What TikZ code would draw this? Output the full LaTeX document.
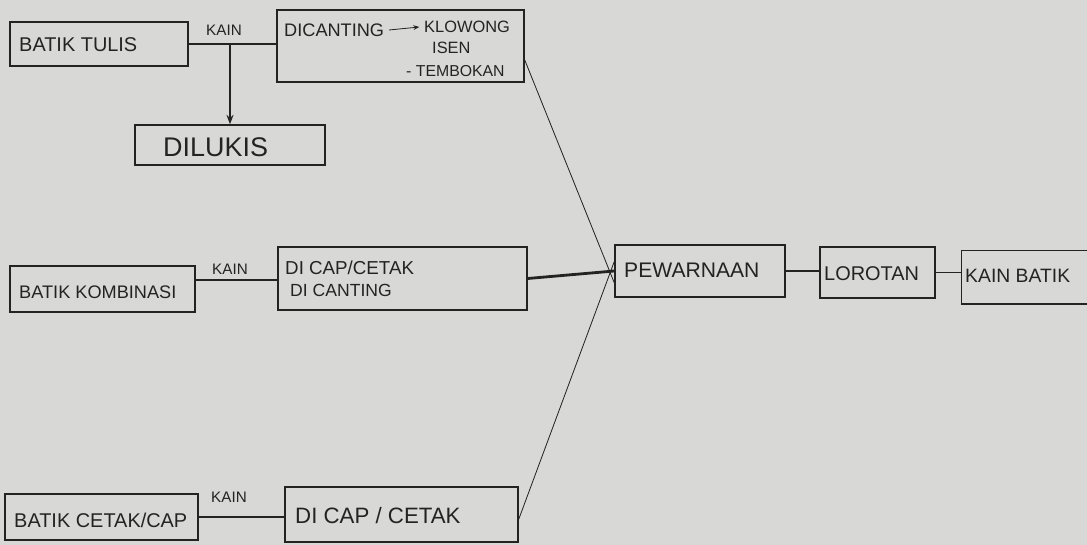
\documentclass[tikz,border=0pt]{standalone}
\usepackage{fontspec}
\setmainfont{Liberation Sans}
\usetikzlibrary{arrows.meta}
\definecolor{paper}{RGB}{216,216,214}
\definecolor{ink}{RGB}{35,35,35}
\newcommand{\fsz}[1]{\fontsize{#1}{#1}\selectfont}
\begin{document}
\begin{tikzpicture}[x=0.03cm,y=-0.03cm,
  box/.style={draw=ink,line width=1.3pt,inner sep=0pt},
  lbl/.style={text=ink,inner sep=0pt},
  link/.style={draw=ink,line width=1.3pt},
  thinlink/.style={draw=ink,line width=0.7pt}]
\fill[paper] (0,0) rectangle (1087,545);
\useasboundingbox (0,0) rectangle (1087,545);

% boxes
\node[box,minimum width=5.34cm,minimum height=1.32cm] (tulis) at (99,44) {};
\node[box,minimum width=7.41cm,minimum height=2.16cm] (canting) at (400.5,46) {};
\node[box,minimum width=5.7cm,minimum height=1.2cm] (lukis) at (230,145) {};
\node[box,minimum width=5.55cm,minimum height=1.38cm] (kombinasi) at (102.5,289) {};
\node[box,minimum width=7.47cm,minimum height=1.89cm] (capcanting) at (402.5,278.5) {};
\node[box,minimum width=5.79cm,minimum height=1.38cm] (cetak) at (101.5,517) {};
\node[box,minimum width=6.99cm,minimum height=1.65cm] (capcetak) at (401.5,514.5) {};
\node[box,minimum width=5.1cm,minimum height=1.56cm] (pewarnaan) at (700,271) {};
\node[box,minimum width=3.45cm,minimum height=1.53cm] (lorotan) at (877.5,272.5) {};
\node[inner sep=0pt,minimum width=3.75cm,minimum height=1.59cm] (kb) at (1024.2,277.2) {};
\draw[link] (kb.north east) -- (kb.north west) -- (kb.south west) -- (kb.south east);

% texts
\node[lbl,font=\fsz{17},anchor=west] (tulisT) at (19,45) {BATIK TULIS};
\node[lbl,font=\fsz{15.5},anchor=west] (dic) at (284,30) {DICANTING};
\node[lbl,font=\fsz{14},anchor=west] (klo) at (424,27) {KLOWONG};
\node[lbl,font=\fsz{14},anchor=west] (isen) at (432,48) {ISEN};
\node[lbl,font=\fsz{13.5},anchor=west] (temb) at (406,71) {- TEMBOKAN};
\node[lbl,font=\fsz{23},anchor=west] (lukisT) at (163,147) {DILUKIS};
\node[lbl,font=\fsz{15.5},anchor=west] (kombT) at (19,292) {BATIK KOMBINASI};
\node[lbl,font=\fsz{16},anchor=west] (cap1) at (285,268) {DI CAP/CETAK};
\node[lbl,font=\fsz{15},anchor=west] (cap2) at (290,290) {DI CANTING};
\node[lbl,font=\fsz{17},anchor=west] (cetakT) at (14,520) {BATIK CETAK/CAP};
\node[lbl,font=\fsz{19},anchor=west] (capcetakT) at (295,516) {DI CAP / CETAK};
\node[lbl,font=\fsz{18},anchor=west] (pewT) at (624,270) {PEWARNAAN};
\node[lbl,font=\fsz{17},anchor=west] (lorT) at (824,274) {LOROTAN};
\node[lbl,font=\fsz{16.5},anchor=west] (kbT) at (965,276) {KAIN BATIK};

% KAIN labels
\node[lbl,font=\fsz{13}] (k1) at (224,30) {KAIN};
\node[lbl,font=\fsz{13}] (k2) at (230,269) {KAIN};
\node[lbl,font=\fsz{13}] (k3) at (229,497) {KAIN};

% connectors
\draw[link] (tulis.east) -- (tulis.east -| canting.west);
\coordinate (j1) at (lukis.north |- tulis.east);
\draw[link,-{Stealth[length=8pt,width=6pt]}] (j1) -- (lukis.north);
\draw[thinlink,-{Stealth[length=5pt,width=4pt]}] ([xshift=4]dic.east) -- ([xshift=-4]klo.west);
\draw[link] ([yshift=-1.3]kombinasi.east |- capcanting.west) -- ([yshift=-1.3]capcanting.west);
\draw[link] (cetak.east) -- (cetak.east -| capcetak.west);
\draw[thinlink] ([yshift=-12]canting.east) -- ([yshift=-10]pewarnaan.west);
\draw[draw=ink,line width=2.4pt] (capcanting.east) -- (pewarnaan.west);
\draw[thinlink] ([yshift=-4]capcetak.east) -- ([yshift=8]pewarnaan.west);
\draw[link] (pewarnaan.east) -- (pewarnaan.east -| lorotan.west);
\draw[link] (lorotan.east) -- (lorotan.east -| kb.west);
\end{tikzpicture}
\end{document}
